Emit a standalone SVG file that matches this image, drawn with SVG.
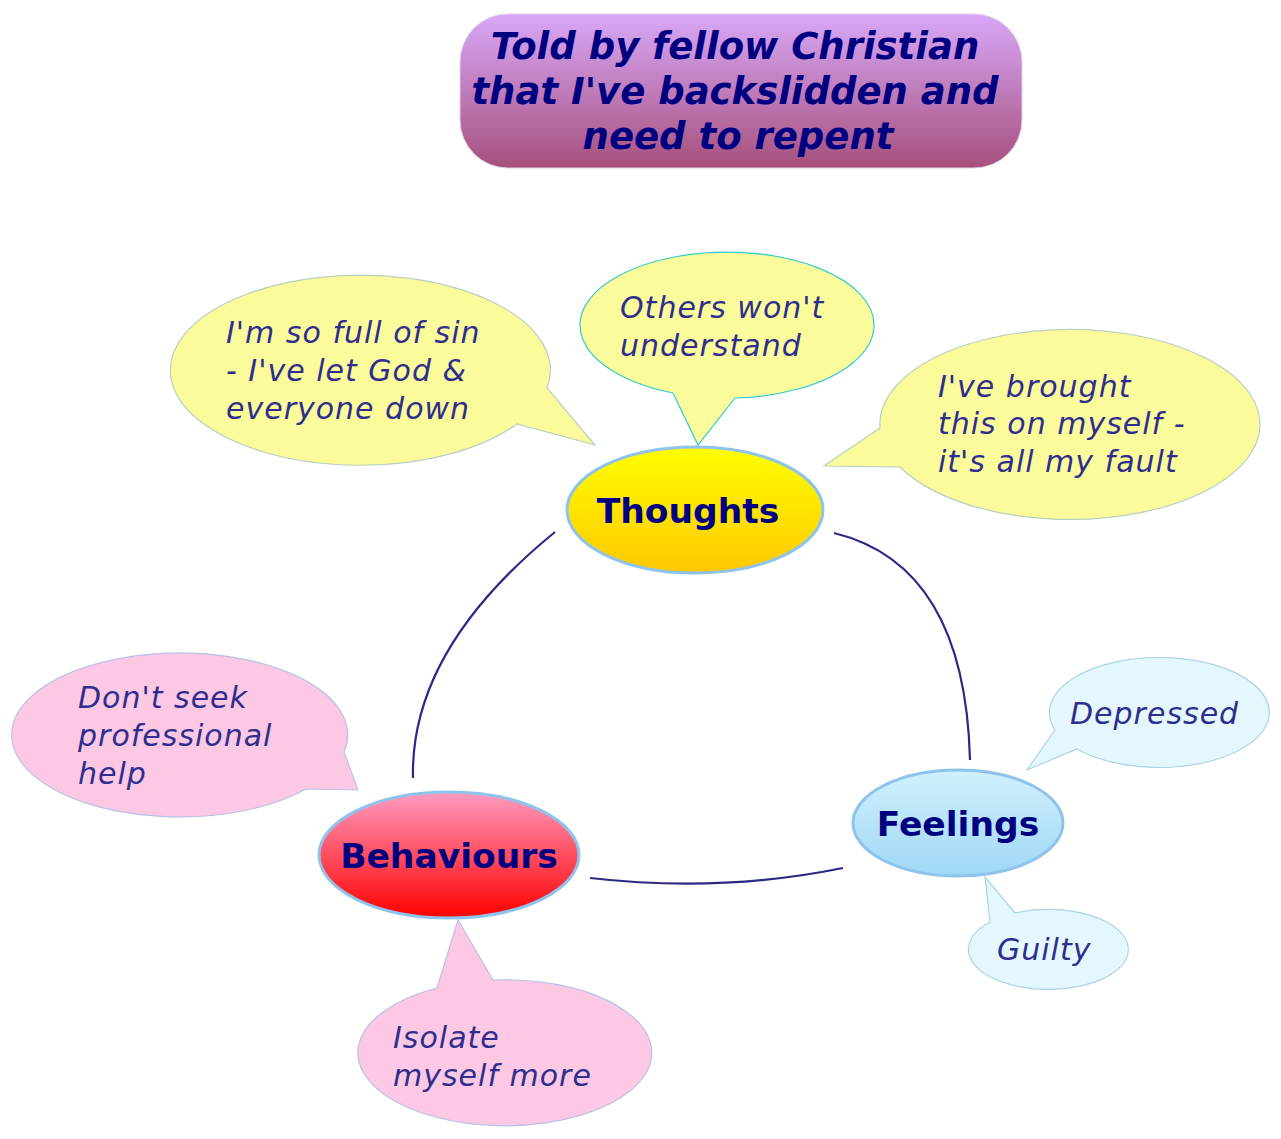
<svg xmlns="http://www.w3.org/2000/svg" width="1281" height="1139" viewBox="0 0 1281 1139">
<defs>
<linearGradient id="gTitle" x1="0" y1="0" x2="0" y2="1"><stop offset="0" stop-color="#d8a8f8"/><stop offset="1" stop-color="#a6507c"/></linearGradient>
<linearGradient id="gYellow" x1="0" y1="0" x2="0" y2="1"><stop offset="0" stop-color="#ffff00"/><stop offset="1" stop-color="#ffc800"/></linearGradient>
<linearGradient id="gBlue" x1="0" y1="0" x2="0" y2="1"><stop offset="0" stop-color="#d2f0fd"/><stop offset="1" stop-color="#9ed8f6"/></linearGradient>
<linearGradient id="gRed" x1="0" y1="0" x2="0" y2="1"><stop offset="0" stop-color="#ff9cc0"/><stop offset="1" stop-color="#ff0000"/></linearGradient>
</defs>
<style>
.title{font-family:"DejaVu Sans",Verdana,sans-serif;font-weight:bold;font-style:italic;font-size:37px;fill:#000080;text-anchor:middle}
.node{stroke:#8ec3ec;stroke-width:3}
.nlabel{font-family:"DejaVu Sans",Verdana,sans-serif;font-weight:bold;font-size:34.5px;fill:#000080;text-anchor:middle}
.ct{font-family:"DejaVu Sans",Verdana,sans-serif;font-style:italic;font-size:30px;letter-spacing:1px;fill:#2e2e8e}
.cy{fill:#fbfb9c;stroke:#b9cfc0;stroke-width:1.2}
.cy2{fill:#fbfb9c;stroke:#33cccc;stroke-width:1.2}
.cb{fill:#e4f7fd;stroke:#a9d3ec;stroke-width:1.2}
.cp{fill:#fcc8e3;stroke:#b7c3e6;stroke-width:1.2}
.conn{fill:none;stroke:#2a2a86;stroke-width:2.2}
</style>
<g id="title">
<rect x="460" y="14" width="562" height="154" rx="48" ry="48" fill="url(#gTitle)" stroke="#e0d0ea" stroke-width="1"/>
<text class="title" x="735" y="59">Told by fellow Christian</text>
<text class="title" x="735" y="104">that I've backslidden and</text>
<text class="title" x="738" y="149">need to repent</text>
</g>
<g id="connectors">
<path class="conn" d="M555,532 Q410,650 413,778"/>
<path class="conn" d="M834,533 Q965,565 970,760"/>
<path class="conn" d="M590,878 Q720,893 843,868"/>
</g>
<g id="callout-sin">
<path class="cy" d="M547,388 A190,95 0 1 0 517,424 L595,445 Z"/>
<text class="ct" x="226" y="343">I'm so full of sin</text>
<text class="ct" x="226" y="381">- I've let God &amp;</text>
<text class="ct" x="226" y="419">everyone down</text>
</g>
<g id="callout-others">
<path class="cy2" d="M735,398 A147,73 0 1 0 673,393 L698,445 Z"/>
<text class="ct" x="620" y="318">Others won't</text>
<text class="ct" x="620" y="356">understand</text>
</g>
<g id="callout-brought">
<path class="cy" d="M880,428 A190,95 0 1 1 900,467 L824,466 Z"/>
<text class="ct" x="938" y="397">I've brought</text>
<text class="ct" x="938" y="434">this on myself -</text>
<text class="ct" x="938" y="472">it's all my fault</text>
</g>
<g id="thoughts">
<ellipse class="node" cx="695" cy="510" rx="128" ry="63" fill="url(#gYellow)"/>
<text class="nlabel" x="688" y="523">Thoughts</text>
</g>
<g id="callout-depressed">
<path class="cb" d="M1055,730 A110,55 0 1 1 1077,749 L1027,770 Z"/>
<text class="ct" x="1070" y="724">Depressed</text>
</g>
<g id="callout-guilty">
<path class="cb" d="M1015,913 A80,40 0 1 1 990,922 L985,877 Z"/>
<text class="ct" x="997" y="960">Guilty</text>
</g>
<g id="feelings">
<ellipse class="node" cx="958" cy="823" rx="105" ry="53" fill="url(#gBlue)"/>
<text class="nlabel" x="958" y="836">Feelings</text>
</g>
<g id="callout-seek">
<path class="cp" d="M344,752 A168,82 0 1 0 306,789 L358,790 Z"/>
<text class="ct" x="78" y="708">Don't seek</text>
<text class="ct" x="78" y="746">professional</text>
<text class="ct" x="78" y="784">help</text>
</g>
<g id="callout-isolate">
<path class="cp" d="M493,980 A147,73 0 1 1 437,988 L458,920 Z"/>
<text class="ct" x="393" y="1048">Isolate</text>
<text class="ct" x="393" y="1086">myself more</text>
</g>
<g id="behaviours">
<ellipse class="node" cx="449" cy="855" rx="130" ry="63" fill="url(#gRed)"/>
<text class="nlabel" x="449" y="868">Behaviours</text>
</g>
</svg>
